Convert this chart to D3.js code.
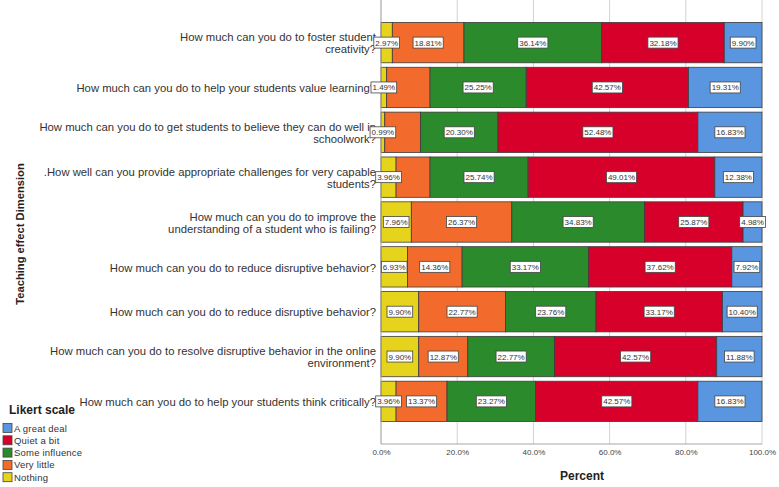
<!DOCTYPE html>
<html>
<head>
<meta charset="utf-8">
<script src="https://cdn.jsdelivr.net/npm/d3@7"></script>
<style>
  html, body { margin: 0; padding: 0; background: #fff; }
  svg { display: block; font-family: "Liberation Sans", Arial, sans-serif; }
</style>
</head>
<body>
<svg id="chart" width="779" height="487"></svg>
<script>
// ---- data ----
const categories = [
  ["How much can you do to foster student", "creativity?"],
  ["How much can you do to help your students value learning?"],
  ["How much can you do to get students to believe they can do well in", "schoolwork?"],
  [".How well can you provide appropriate challenges for very capable", "students?"],
  ["How much can you do to improve the", "understanding of a student who is failing?"],
  ["How much can you do to reduce disruptive behavior?"],
  ["How much can you do to reduce disruptive behavior?"],
  ["How much can you do to resolve disruptive behavior in the online", "environment?"],
  ["How much can you do to help your students think critically?"]
];
const seriesNames = ["Nothing", "Very little", "Some influence", "Quiet a bit", "A great deal"];
const nothing       = [2.97, 1.49, 0.99, 3.96, 7.96, 6.93, 9.90, 9.90, 3.96];
const veryLittle    = [18.81, 11.38, 9.40, 8.91, 26.37, 14.36, 22.77, 12.87, 13.37];
const someInfluence = [36.14, 25.25, 20.30, 25.74, 34.83, 33.17, 23.76, 22.77, 23.27];
const quietABit     = [32.18, 42.57, 52.48, 49.01, 25.87, 37.62, 33.17, 42.57, 42.57];
const greatDeal     = [9.90, 19.31, 16.83, 12.38, 4.98, 7.92, 10.40, 11.88, 16.83];
const xTicks = [0, 20, 40, 60, 80, 100];
const legendOrder = ["A great deal", "Quiet a bit", "Some influence", "Very little", "Nothing"];
const colors = {
  "Nothing": "#e6d41c",
  "Very little": "#f26b2c",
  "Some influence": "#2b8a2c",
  "Quiet a bit": "#d7002b",
  "A great deal": "#5a95e0"
};

const seriesValues = [nothing, veryLittle, someInfluence, quietABit, greatDeal];

const svg = d3.select("#chart");
const plot = { left: 381, right: 762, top: 0, bottom: 444 };

const x = d3.scaleLinear().domain([0, 100]).range([plot.left, plot.right]);
const y = d3.scaleBand().domain(d3.range(categories.length))
  .range([plot.top, plot.bottom]).paddingInner(0.1).paddingOuter(0.5);

// gridlines
svg.append("g").selectAll("line").data(xTicks.filter(d => d > 0)).join("line")
  .attr("x1", d => x(d)).attr("x2", d => x(d))
  .attr("y1", plot.top).attr("y2", plot.bottom)
  .attr("stroke", "#d2d2d2").attr("stroke-width", 1);

// stacked rows
const rows = categories.map((c, i) => {
  let acc = 0;
  return seriesNames.map((s, k) => {
    const v = seriesValues[k][i];
    const seg = { row: i, series: s, value: v, x0: acc, x1: acc + v };
    acc += v;
    return seg;
  });
});

const barG = svg.append("g");
rows.forEach(row => {
  barG.selectAll(null).data(row).join("rect")
    .attr("x", d => x(d.x0))
    .attr("y", d => y(d.row))
    .attr("width", d => Math.max(0, x(d.x1) - x(d.x0)))
    .attr("height", y.bandwidth())
    .attr("fill", d => colors[d.series])
    .attr("stroke", "#3c3c3c")
    .attr("stroke-width", 0.8);
});

// axes lines
svg.append("line").attr("x1", plot.left).attr("x2", plot.left)
  .attr("y1", plot.top).attr("y2", plot.bottom).attr("stroke", "#a8a8a8").attr("stroke-width", 1.2);
svg.append("line").attr("x1", plot.left).attr("x2", plot.right)
  .attr("y1", plot.bottom).attr("y2", plot.bottom).attr("stroke", "#a8a8a8").attr("stroke-width", 1.2);

// x tick labels
const xAxis = d3.axisBottom(x).tickValues(xTicks).tickSize(0).tickFormat(d => d.toFixed(1) + "%");
const xg = svg.append("g").attr("transform", `translate(0,${plot.bottom})`).call(xAxis);
xg.select(".domain").remove();
xg.selectAll("text").attr("font-size", 8).attr("fill", "#444").attr("dy", "1.05em")
  .attr("font-family", "Liberation Sans, Arial, sans-serif");

// category labels
const catG = svg.append("g");
categories.forEach((lines, i) => {
  const cy = y(i) + y.bandwidth() / 2;
  const lh = 12;
  const n = lines.length;
  lines.forEach((ln, j) => {
    const center = cy + 0.8 + (j - (n - 1) / 2) * lh;
    catG.append("text")
      .attr("x", 376).attr("y", center + 4)
      .attr("text-anchor", "end")
      .attr("font-size", 11.3)
      .attr("fill", "#333")
      .text(ln);
  });
});

// data labels with overlap suppression
const lblG = svg.append("g");
rows.forEach(row => {
  let lastRight = -Infinity;
  row.forEach(d => {
    const cx = (x(d.x0) + x(d.x1)) / 2;
    const cy = y(d.row) + y.bandwidth() / 2;
    const g = lblG.append("g");
    const t = g.append("text")
      .attr("x", cx).attr("y", cy + 3)
      .attr("text-anchor", "middle")
      .attr("font-size", 8)
      .attr("fill", "#333")
      .text(d.value.toFixed(2) + "%");
    const w = t.node().getComputedTextLength() + 3;
    const left = cx - w / 2;
    if (left < lastRight) { g.remove(); return; }
    lastRight = cx + w / 2;
    g.insert("rect", "text")
      .attr("x", left).attr("y", cy - 5.5)
      .attr("width", w).attr("height", 11)
      .attr("fill", "#fff").attr("stroke", "#444").attr("stroke-width", 0.8);
  });
});

// axis titles
svg.append("text").attr("x", 582).attr("y", 480)
  .attr("text-anchor", "middle").attr("font-size", 12).attr("font-weight", "bold")
  .attr("fill", "#222").text("Percent");
svg.append("text")
  .attr("transform", "translate(24,234) rotate(-90)")
  .attr("text-anchor", "middle").attr("font-size", 11.2).attr("font-weight", "bold")
  .attr("fill", "#222").text("Teaching effect Dimension");

// legend
const leg = svg.append("g");
leg.append("text").attr("x", 9).attr("y", 414).attr("font-size", 12)
  .attr("font-weight", "bold").attr("fill", "#222").text("Likert scale");
legendOrder.forEach((s, i) => {
  const cy = 428 + i * 12.3;
  leg.append("rect").attr("x", 3).attr("y", cy - 4.5).attr("width", 9).attr("height", 9)
    .attr("fill", colors[s]).attr("stroke", "#444").attr("stroke-width", 0.8);
  leg.append("text").attr("x", 14).attr("y", cy + 3.5).attr("font-size", 9.5)
    .attr("letter-spacing", 0.2).attr("fill", "#333").text(s);
});
</script>
</body>
</html>
